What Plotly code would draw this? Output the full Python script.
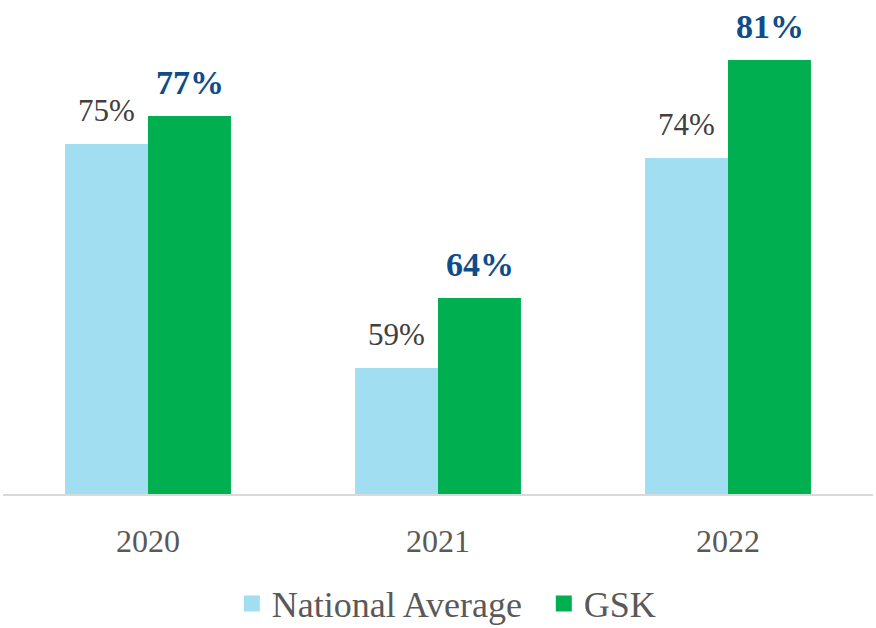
import plotly.graph_objects as go

years = ["2020", "2021", "2022"]
national = [75, 59, 74]
gsk = [77, 64, 81]

font_family = "Liberation Serif"
c_nat = "#A2DEF1"
c_gsk = "#00B050"

fig = go.Figure()
fig.add_trace(go.Bar(
    x=years, y=national, name="National Average", showlegend=False,
    marker=dict(color=c_nat, line=dict(width=0)), hoverinfo="skip",
))
fig.add_trace(go.Bar(
    x=years, y=gsk, name="GSK", showlegend=False,
    marker=dict(color=c_gsk, line=dict(width=0)), hoverinfo="skip",
))
# legend entries with larger square symbols (no visible points)
fig.add_trace(go.Scatter(x=years, y=[None] * len(years), mode="markers", name="National Average",
                         marker=dict(symbol="square", size=20, color=c_nat), hoverinfo="skip"))
fig.add_trace(go.Scatter(x=years, y=[None] * len(years), mode="markers", name="GSK",
                         marker=dict(symbol="square", size=20, color=c_gsk), hoverinfo="skip"))

half = 41.5
for i, v in enumerate(national):
    fig.add_annotation(x=i, y=v, text=f"{v}%", showarrow=False, xshift=-half,
                       yanchor="bottom", yshift=14,
                       font=dict(family=font_family, size=31, color="#404040"))
for i, v in enumerate(gsk):
    fig.add_annotation(x=i, y=v, text=f"<b>{v}%</b>", showarrow=False, xshift=half,
                       yanchor="bottom", yshift=13,
                       font=dict(family=font_family, size=34, color="#0E4C8A"))

fig.update_layout(
    width=876, height=628,
    margin=dict(l=3, r=3, t=4, b=134),
    paper_bgcolor="white", plot_bgcolor="white",
    barmode="group", bargap=0.428, bargroupgap=0,
    font=dict(family=font_family, size=30, color="#595959"),
    showlegend=True,
    legend=dict(orientation="h", x=0.263, xanchor="left",
                yref="container", y=0.039, yanchor="middle",
                entrywidth=267, entrywidthmode="pixels",
                font=dict(family=font_family, size=36, color="#595959"),
                traceorder="normal"),
    xaxis=dict(type="category", categoryorder="array", categoryarray=years,
               range=[-0.5, len(years) - 0.5], autorange=False,
               showline=True, linecolor="#D9D9D9", linewidth=2, ticks="",
               tickfont=dict(family=font_family, size=32, color="#595959"),
               ticklabelstandoff=18),
    yaxis=dict(range=[50, 85], autorange=False, visible=False, showgrid=False, zeroline=False),
)

fig.write_html("out.html", config={"displayModeBar": False},
               post_script="document.body.style.margin='0';")
